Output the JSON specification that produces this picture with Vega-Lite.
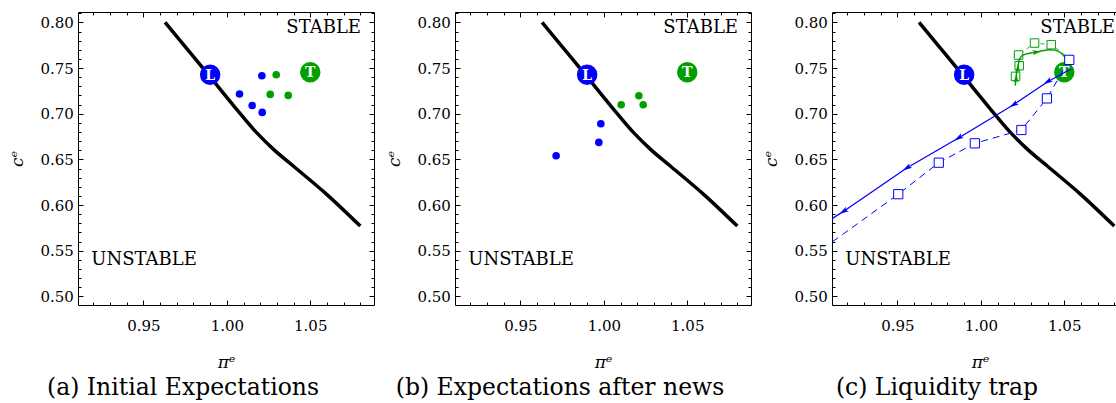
{
  "$schema": "https://vega.github.io/schema/vega-lite/v6.json",
  "padding": {"left": 8, "top": 6, "right": 0, "bottom": 0},
  "background": "white",
  "spacing": 81,
  "bounds": "flush",
  "datasets": {
    "boundary": [
      {"pe": 0.963, "ce": 0.800}, {"pe": 0.975, "ce": 0.7735}, {"pe": 0.990, "ce": 0.7403},
      {"pe": 1.005, "ce": 0.7068}, {"pe": 1.018, "ce": 0.679}, {"pe": 1.028, "ce": 0.661},
      {"pe": 1.040, "ce": 0.6425}, {"pe": 1.060, "ce": 0.6115}, {"pe": 1.080, "ce": 0.577}
    ],
    "anchors": [
      {"name": "L", "pe": 0.990, "ce": 0.7427},
      {"name": "T", "pe": 1.050, "ce": 0.7453}
    ],
    "regions": [
      {"label": "STABLE", "pe": 1.0804, "ce": 0.7939},
      {"label": "UNSTABLE", "pe": 0.9188, "ce": 0.5402}
    ],
    "initial": [
      {"group": "L", "pe": 1.021, "ce": 0.7416}, {"group": "L", "pe": 1.0076, "ce": 0.7216},
      {"group": "L", "pe": 1.0152, "ce": 0.7091}, {"group": "L", "pe": 1.0212, "ce": 0.7015},
      {"group": "T", "pe": 1.0296, "ce": 0.7427}, {"group": "T", "pe": 1.026, "ce": 0.7212},
      {"group": "T", "pe": 1.0368, "ce": 0.7201}
    ],
    "afternews": [
      {"group": "L", "pe": 0.9982, "ce": 0.6891}, {"group": "L", "pe": 0.997, "ce": 0.6686},
      {"group": "L", "pe": 0.9714, "ce": 0.654},
      {"group": "T", "pe": 1.0104, "ce": 0.7099}, {"group": "T", "pe": 1.021, "ce": 0.7197},
      {"group": "T", "pe": 1.0236, "ce": 0.7099}
    ],
    "blueActual": [
      {"pe": 1.054, "ce": 0.749, "arrow": ""}, {"pe": 1.040, "ce": 0.735, "arrow": "yes"},
      {"pe": 1.0196, "ce": 0.7099, "arrow": "yes"}, {"pe": 0.9866, "ce": 0.6734, "arrow": "yes"},
      {"pe": 0.9556, "ce": 0.6406, "arrow": "yes"}, {"pe": 0.9176, "ce": 0.593, "arrow": "yes"},
      {"pe": 0.895, "ce": 0.567, "arrow": ""}
    ],
    "blueExpected": [
      {"pe": 1.053, "ce": 0.759}, {"pe": 1.0396, "ce": 0.7168}, {"pe": 1.0243, "ce": 0.6822},
      {"pe": 0.9964, "ce": 0.6676}, {"pe": 0.9748, "ce": 0.6464}, {"pe": 0.9505, "ce": 0.6119},
      {"pe": 0.89, "ce": 0.532}
    ],
    "greenActual": [
      {"pe": 1.0206, "ce": 0.7307, "arrow": ""}, {"pe": 1.0212, "ce": 0.7391, "arrow": "up"},
      {"pe": 1.0214, "ce": 0.7446, "arrow": ""}, {"pe": 1.0222, "ce": 0.750, "arrow": "up"},
      {"pe": 1.0228, "ce": 0.7573, "arrow": ""}, {"pe": 1.0246, "ce": 0.7635, "arrow": ""},
      {"pe": 1.0336, "ce": 0.7676, "arrow": "right"}, {"pe": 1.0406, "ce": 0.770, "arrow": ""},
      {"pe": 1.0466, "ce": 0.7683, "arrow": ""}, {"pe": 1.0526, "ce": 0.757, "arrow": ""}
    ],
    "greenExpected": [
      {"pe": 1.0208, "ce": 0.7409}, {"pe": 1.023, "ce": 0.7526}, {"pe": 1.0226, "ce": 0.7643},
      {"pe": 1.0322, "ce": 0.7774}, {"pe": 1.0422, "ce": 0.7756}, {"pe": 1.0536, "ce": 0.760}
    ]
  },
  "hconcat": [
    {
      "width": 296, "height": 293,
      "title": {"text": "(a) Initial Expectations", "font": "DejaVu Serif", "fontSize": 23.5, "fontWeight": "normal", "color": "black", "orient": "bottom", "anchor": "middle", "frame": "group", "dx": -43, "offset": 6},
      "resolve": {"axis": {"x": "independent", "y": "independent"}},
      "layer": [
        {
          "data": {"name": "boundary"},
          "mark": {"type": "line", "color": "black", "strokeWidth": 3.5, "interpolate": "monotone", "clip": true},
          "encoding": {
            "x": {"field": "pe", "type": "quantitative", "scale": {"domain": [0.9108, 1.0882], "nice": false, "zero": false},
              "axis": {"orient": "bottom", "values": [0.92,0.93,0.94,0.95,0.96,0.97,0.98,0.99,1.0,1.01,1.02,1.03,1.04,1.05,1.06,1.07,1.08],
                "labelExpr": "abs(datum.value*20 - round(datum.value*20)) < 0.01 ? format(datum.value, '.2f') : ''",
                "tickSize": {"condition": {"test": "abs(datum.value*20 - round(datum.value*20)) < 0.01", "value": -5}, "value": -3},
                "labelFont": "DejaVu Serif", "labelFontSize": 15, "labelColor": "black",
                "titleFont": "DejaVu Serif", "titleFontSize": 17, "titleFontStyle": "italic", "titleFontWeight": "normal", "titleColor": "black",
                "labelPadding": 18, "title": "πᵉ", "titlePadding": 19}},
            "y": {"field": "ce", "type": "quantitative", "scale": {"domain": [0.4906, 0.8114], "nice": false, "zero": false},
              "axis": {"orient": "left", "values": [0.5,0.51,0.52,0.53,0.54,0.55,0.56,0.57,0.58,0.59,0.6,0.61,0.62,0.63,0.64,0.65,0.66,0.67,0.68,0.69,0.7,0.71,0.72,0.73,0.74,0.75,0.76,0.77,0.78,0.79,0.8,0.81],
                "labelExpr": "abs(datum.value*20 - round(datum.value*20)) < 0.01 ? format(datum.value, '.2f') : ''",
                "tickSize": {"condition": {"test": "abs(datum.value*20 - round(datum.value*20)) < 0.01", "value": -5}, "value": -3},
                "labelFont": "DejaVu Serif", "labelFontSize": 15, "labelColor": "black",
                "titleFont": "DejaVu Serif", "titleFontSize": 17, "titleFontStyle": "italic", "titleFontWeight": "normal", "titleColor": "black",
                "labelPadding": 9.6, "title": "cᵉ", "titlePadding": 14}}
          }
        },
        {
          "data": {"name": "regions"},
          "transform": [{"filter": "datum.label == 'STABLE'"}],
          "mark": {"type": "text", "font": "DejaVu Serif", "fontSize": 18, "color": "black", "baseline": "middle", "align": "right"},
          "encoding": {
            "x": {"field": "pe", "type": "quantitative", "scale": {"domain": [0.9108, 1.0882], "nice": false, "zero": false},
              "axis": {"orient": "top", "labels": false, "title": null, "values": [0.92,0.93,0.94,0.95,0.96,0.97,0.98,0.99,1.0,1.01,1.02,1.03,1.04,1.05,1.06,1.07,1.08],
                "tickSize": {"condition": {"test": "abs(datum.value*20 - round(datum.value*20)) < 0.01", "value": -5}, "value": -3}}},
            "y": {"field": "ce", "type": "quantitative", "scale": {"domain": [0.4906, 0.8114], "nice": false, "zero": false},
              "axis": {"orient": "right", "labels": false, "title": null, "values": [0.5,0.51,0.52,0.53,0.54,0.55,0.56,0.57,0.58,0.59,0.6,0.61,0.62,0.63,0.64,0.65,0.66,0.67,0.68,0.69,0.7,0.71,0.72,0.73,0.74,0.75,0.76,0.77,0.78,0.79,0.8,0.81],
                "tickSize": {"condition": {"test": "abs(datum.value*20 - round(datum.value*20)) < 0.01", "value": -5}, "value": -3}}},
            "text": {"field": "label"}
          }
        },
        {
          "data": {"name": "regions"},
          "transform": [{"filter": "datum.label == 'UNSTABLE'"}],
          "mark": {"type": "text", "font": "DejaVu Serif", "fontSize": 18, "color": "black", "baseline": "middle", "align": "left"},
          "encoding": {
            "x": {"field": "pe", "type": "quantitative", "scale": {"domain": [0.9108, 1.0882], "nice": false, "zero": false}, "axis": null},
            "y": {"field": "ce", "type": "quantitative", "scale": {"domain": [0.4906, 0.8114], "nice": false, "zero": false}, "axis": null},
            "text": {"field": "label"}
          }
        },
        {
          "data": {"name": "initial"},
          "mark": {"type": "circle", "size": 58, "opacity": 1},
          "encoding": {
            "x": {"field": "pe", "type": "quantitative", "scale": {"domain": [0.9108, 1.0882], "nice": false, "zero": false}, "axis": null},
            "y": {"field": "ce", "type": "quantitative", "scale": {"domain": [0.4906, 0.8114], "nice": false, "zero": false}, "axis": null},
            "color": {"field": "group", "type": "nominal", "scale": {"domain": ["L", "T"], "range": ["#0000ff", "#00a000"]}, "legend": null}
          }
        },
        {
          "data": {"name": "anchors"},
          "mark": {"type": "circle", "size": 420, "opacity": 1},
          "encoding": {
            "x": {"field": "pe", "type": "quantitative", "scale": {"domain": [0.9108, 1.0882], "nice": false, "zero": false}, "axis": null},
            "y": {"field": "ce", "type": "quantitative", "scale": {"domain": [0.4906, 0.8114], "nice": false, "zero": false}, "axis": null},
            "color": {"field": "name", "type": "nominal", "scale": {"domain": ["L", "T"], "range": ["#0000ff", "#00a000"]}, "legend": null}
          }
        },
        {
          "data": {"name": "anchors"},
          "mark": {"type": "text", "font": "DejaVu Serif", "fontSize": 14, "fontWeight": "bold", "color": "white", "baseline": "middle", "align": "center", "dy": 1},
          "encoding": {
            "x": {"field": "pe", "type": "quantitative", "scale": {"domain": [0.9108, 1.0882], "nice": false, "zero": false}, "axis": null},
            "y": {"field": "ce", "type": "quantitative", "scale": {"domain": [0.4906, 0.8114], "nice": false, "zero": false}, "axis": null},
            "text": {"field": "name"}
          }
        }
      ]
    },
    {
      "width": 296, "height": 293,
      "title": {"text": "(b) Expectations after news", "font": "DejaVu Serif", "fontSize": 23.5, "fontWeight": "normal", "color": "black", "orient": "bottom", "anchor": "middle", "frame": "group", "dx": -43, "offset": 6},
      "resolve": {"axis": {"x": "independent", "y": "independent"}},
      "layer": [
        {
          "data": {"name": "boundary"},
          "mark": {"type": "line", "color": "black", "strokeWidth": 3.5, "interpolate": "monotone", "clip": true},
          "encoding": {
            "x": {"field": "pe", "type": "quantitative", "scale": {"domain": [0.9108, 1.0882], "nice": false, "zero": false},
              "axis": {"orient": "bottom", "values": [0.92,0.93,0.94,0.95,0.96,0.97,0.98,0.99,1.0,1.01,1.02,1.03,1.04,1.05,1.06,1.07,1.08],
                "labelExpr": "abs(datum.value*20 - round(datum.value*20)) < 0.01 ? format(datum.value, '.2f') : ''",
                "tickSize": {"condition": {"test": "abs(datum.value*20 - round(datum.value*20)) < 0.01", "value": -5}, "value": -3},
                "labelFont": "DejaVu Serif", "labelFontSize": 15, "labelColor": "black",
                "titleFont": "DejaVu Serif", "titleFontSize": 17, "titleFontStyle": "italic", "titleFontWeight": "normal", "titleColor": "black",
                "labelPadding": 18, "title": "πᵉ", "titlePadding": 19}},
            "y": {"field": "ce", "type": "quantitative", "scale": {"domain": [0.4906, 0.8114], "nice": false, "zero": false},
              "axis": {"orient": "left", "values": [0.5,0.51,0.52,0.53,0.54,0.55,0.56,0.57,0.58,0.59,0.6,0.61,0.62,0.63,0.64,0.65,0.66,0.67,0.68,0.69,0.7,0.71,0.72,0.73,0.74,0.75,0.76,0.77,0.78,0.79,0.8,0.81],
                "labelExpr": "abs(datum.value*20 - round(datum.value*20)) < 0.01 ? format(datum.value, '.2f') : ''",
                "tickSize": {"condition": {"test": "abs(datum.value*20 - round(datum.value*20)) < 0.01", "value": -5}, "value": -3},
                "labelFont": "DejaVu Serif", "labelFontSize": 15, "labelColor": "black",
                "titleFont": "DejaVu Serif", "titleFontSize": 17, "titleFontStyle": "italic", "titleFontWeight": "normal", "titleColor": "black",
                "labelPadding": 9.6, "title": "cᵉ", "titlePadding": 14}}
          }
        },
        {
          "data": {"name": "regions"},
          "transform": [{"filter": "datum.label == 'STABLE'"}],
          "mark": {"type": "text", "font": "DejaVu Serif", "fontSize": 18, "color": "black", "baseline": "middle", "align": "right"},
          "encoding": {
            "x": {"field": "pe", "type": "quantitative", "scale": {"domain": [0.9108, 1.0882], "nice": false, "zero": false},
              "axis": {"orient": "top", "labels": false, "title": null, "values": [0.92,0.93,0.94,0.95,0.96,0.97,0.98,0.99,1.0,1.01,1.02,1.03,1.04,1.05,1.06,1.07,1.08],
                "tickSize": {"condition": {"test": "abs(datum.value*20 - round(datum.value*20)) < 0.01", "value": -5}, "value": -3}}},
            "y": {"field": "ce", "type": "quantitative", "scale": {"domain": [0.4906, 0.8114], "nice": false, "zero": false},
              "axis": {"orient": "right", "labels": false, "title": null, "values": [0.5,0.51,0.52,0.53,0.54,0.55,0.56,0.57,0.58,0.59,0.6,0.61,0.62,0.63,0.64,0.65,0.66,0.67,0.68,0.69,0.7,0.71,0.72,0.73,0.74,0.75,0.76,0.77,0.78,0.79,0.8,0.81],
                "tickSize": {"condition": {"test": "abs(datum.value*20 - round(datum.value*20)) < 0.01", "value": -5}, "value": -3}}},
            "text": {"field": "label"}
          }
        },
        {
          "data": {"name": "regions"},
          "transform": [{"filter": "datum.label == 'UNSTABLE'"}],
          "mark": {"type": "text", "font": "DejaVu Serif", "fontSize": 18, "color": "black", "baseline": "middle", "align": "left"},
          "encoding": {
            "x": {"field": "pe", "type": "quantitative", "scale": {"domain": [0.9108, 1.0882], "nice": false, "zero": false}, "axis": null},
            "y": {"field": "ce", "type": "quantitative", "scale": {"domain": [0.4906, 0.8114], "nice": false, "zero": false}, "axis": null},
            "text": {"field": "label"}
          }
        },
        {
          "data": {"name": "afternews"},
          "mark": {"type": "circle", "size": 58, "opacity": 1},
          "encoding": {
            "x": {"field": "pe", "type": "quantitative", "scale": {"domain": [0.9108, 1.0882], "nice": false, "zero": false}, "axis": null},
            "y": {"field": "ce", "type": "quantitative", "scale": {"domain": [0.4906, 0.8114], "nice": false, "zero": false}, "axis": null},
            "color": {"field": "group", "type": "nominal", "scale": {"domain": ["L", "T"], "range": ["#0000ff", "#00a000"]}, "legend": null}
          }
        },
        {
          "data": {"name": "anchors"},
          "mark": {"type": "circle", "size": 420, "opacity": 1},
          "encoding": {
            "x": {"field": "pe", "type": "quantitative", "scale": {"domain": [0.9108, 1.0882], "nice": false, "zero": false}, "axis": null},
            "y": {"field": "ce", "type": "quantitative", "scale": {"domain": [0.4906, 0.8114], "nice": false, "zero": false}, "axis": null},
            "color": {"field": "name", "type": "nominal", "scale": {"domain": ["L", "T"], "range": ["#0000ff", "#00a000"]}, "legend": null}
          }
        },
        {
          "data": {"name": "anchors"},
          "mark": {"type": "text", "font": "DejaVu Serif", "fontSize": 14, "fontWeight": "bold", "color": "white", "baseline": "middle", "align": "center", "dy": 1},
          "encoding": {
            "x": {"field": "pe", "type": "quantitative", "scale": {"domain": [0.9108, 1.0882], "nice": false, "zero": false}, "axis": null},
            "y": {"field": "ce", "type": "quantitative", "scale": {"domain": [0.4906, 0.8114], "nice": false, "zero": false}, "axis": null},
            "text": {"field": "name"}
          }
        }
      ]
    },
    {
      "width": 296, "height": 293,
      "title": {"text": "(c) Liquidity trap", "font": "DejaVu Serif", "fontSize": 23.5, "fontWeight": "normal", "color": "black", "orient": "bottom", "anchor": "middle", "frame": "group", "dx": -43, "offset": 6},
      "resolve": {"axis": {"x": "independent", "y": "independent"}},
      "layer": [
        {
          "data": {"name": "boundary"},
          "mark": {"type": "line", "color": "black", "strokeWidth": 3.5, "interpolate": "monotone", "clip": true},
          "encoding": {
            "x": {"field": "pe", "type": "quantitative", "scale": {"domain": [0.9108, 1.0882], "nice": false, "zero": false},
              "axis": {"orient": "bottom", "values": [0.92,0.93,0.94,0.95,0.96,0.97,0.98,0.99,1.0,1.01,1.02,1.03,1.04,1.05,1.06,1.07,1.08],
                "labelExpr": "abs(datum.value*20 - round(datum.value*20)) < 0.01 ? format(datum.value, '.2f') : ''",
                "tickSize": {"condition": {"test": "abs(datum.value*20 - round(datum.value*20)) < 0.01", "value": -5}, "value": -3},
                "labelFont": "DejaVu Serif", "labelFontSize": 15, "labelColor": "black",
                "titleFont": "DejaVu Serif", "titleFontSize": 17, "titleFontStyle": "italic", "titleFontWeight": "normal", "titleColor": "black",
                "labelPadding": 18, "title": "πᵉ", "titlePadding": 19}},
            "y": {"field": "ce", "type": "quantitative", "scale": {"domain": [0.4906, 0.8114], "nice": false, "zero": false},
              "axis": {"orient": "left", "values": [0.5,0.51,0.52,0.53,0.54,0.55,0.56,0.57,0.58,0.59,0.6,0.61,0.62,0.63,0.64,0.65,0.66,0.67,0.68,0.69,0.7,0.71,0.72,0.73,0.74,0.75,0.76,0.77,0.78,0.79,0.8,0.81],
                "labelExpr": "abs(datum.value*20 - round(datum.value*20)) < 0.01 ? format(datum.value, '.2f') : ''",
                "tickSize": {"condition": {"test": "abs(datum.value*20 - round(datum.value*20)) < 0.01", "value": -5}, "value": -3},
                "labelFont": "DejaVu Serif", "labelFontSize": 15, "labelColor": "black",
                "titleFont": "DejaVu Serif", "titleFontSize": 17, "titleFontStyle": "italic", "titleFontWeight": "normal", "titleColor": "black",
                "labelPadding": 9.6, "title": "cᵉ", "titlePadding": 14}}
          }
        },
        {
          "data": {"name": "regions"},
          "transform": [{"filter": "datum.label == 'STABLE'"}],
          "mark": {"type": "text", "font": "DejaVu Serif", "fontSize": 18, "color": "black", "baseline": "middle", "align": "right"},
          "encoding": {
            "x": {"field": "pe", "type": "quantitative", "scale": {"domain": [0.9108, 1.0882], "nice": false, "zero": false},
              "axis": {"orient": "top", "labels": false, "title": null, "values": [0.92,0.93,0.94,0.95,0.96,0.97,0.98,0.99,1.0,1.01,1.02,1.03,1.04,1.05,1.06,1.07,1.08],
                "tickSize": {"condition": {"test": "abs(datum.value*20 - round(datum.value*20)) < 0.01", "value": -5}, "value": -3}}},
            "y": {"field": "ce", "type": "quantitative", "scale": {"domain": [0.4906, 0.8114], "nice": false, "zero": false},
              "axis": {"orient": "right", "labels": false, "title": null, "values": [0.5,0.51,0.52,0.53,0.54,0.55,0.56,0.57,0.58,0.59,0.6,0.61,0.62,0.63,0.64,0.65,0.66,0.67,0.68,0.69,0.7,0.71,0.72,0.73,0.74,0.75,0.76,0.77,0.78,0.79,0.8,0.81],
                "tickSize": {"condition": {"test": "abs(datum.value*20 - round(datum.value*20)) < 0.01", "value": -5}, "value": -3}}},
            "text": {"field": "label"}
          }
        },
        {
          "data": {"name": "regions"},
          "transform": [{"filter": "datum.label == 'UNSTABLE'"}],
          "mark": {"type": "text", "font": "DejaVu Serif", "fontSize": 18, "color": "black", "baseline": "middle", "align": "left"},
          "encoding": {
            "x": {"field": "pe", "type": "quantitative", "scale": {"domain": [0.9108, 1.0882], "nice": false, "zero": false}, "axis": null},
            "y": {"field": "ce", "type": "quantitative", "scale": {"domain": [0.4906, 0.8114], "nice": false, "zero": false}, "axis": null},
            "text": {"field": "label"}
          }
        },
        {
          "data": {"name": "anchors"},
          "mark": {"type": "circle", "size": 420, "opacity": 1},
          "encoding": {
            "x": {"field": "pe", "type": "quantitative", "scale": {"domain": [0.9108, 1.0882], "nice": false, "zero": false}, "axis": null},
            "y": {"field": "ce", "type": "quantitative", "scale": {"domain": [0.4906, 0.8114], "nice": false, "zero": false}, "axis": null},
            "color": {"field": "name", "type": "nominal", "scale": {"domain": ["L", "T"], "range": ["#0000ff", "#00a000"]}, "legend": null}
          }
        },
        {
          "data": {"name": "anchors"},
          "mark": {"type": "text", "font": "DejaVu Serif", "fontSize": 14, "fontWeight": "bold", "color": "white", "baseline": "middle", "align": "center", "dy": 1},
          "encoding": {
            "x": {"field": "pe", "type": "quantitative", "scale": {"domain": [0.9108, 1.0882], "nice": false, "zero": false}, "axis": null},
            "y": {"field": "ce", "type": "quantitative", "scale": {"domain": [0.4906, 0.8114], "nice": false, "zero": false}, "axis": null},
            "text": {"field": "name"}
          }
        },
        {
          "data": {"name": "greenExpected"},
          "mark": {"type": "line", "color": "#00a000", "strokeWidth": 0.8, "strokeDash": [4, 4], "clip": true},
          "encoding": {
            "x": {"field": "pe", "type": "quantitative", "scale": {"domain": [0.9108, 1.0882], "nice": false, "zero": false}, "axis": null},
            "y": {"field": "ce", "type": "quantitative", "scale": {"domain": [0.4906, 0.8114], "nice": false, "zero": false}, "axis": null},
            "order": {"value": null}
          }
        },
        {
          "data": {"name": "greenExpected"},
          "transform": [{"filter": "datum.pe < 1.05"}],
          "mark": {"type": "point", "shape": "square", "filled": true, "fill": "white", "stroke": "#00a000", "strokeWidth": 1, "size": 72, "opacity": 1, "clip": true},
          "encoding": {
            "x": {"field": "pe", "type": "quantitative", "scale": {"domain": [0.9108, 1.0882], "nice": false, "zero": false}, "axis": null},
            "y": {"field": "ce", "type": "quantitative", "scale": {"domain": [0.4906, 0.8114], "nice": false, "zero": false}, "axis": null}
          }
        },
        {
          "data": {"name": "greenActual"},
          "mark": {"type": "line", "color": "#00a000", "strokeWidth": 1.5, "interpolate": "catmull-rom", "clip": true},
          "encoding": {
            "x": {"field": "pe", "type": "quantitative", "scale": {"domain": [0.9108, 1.0882], "nice": false, "zero": false}, "axis": null},
            "y": {"field": "ce", "type": "quantitative", "scale": {"domain": [0.4906, 0.8114], "nice": false, "zero": false}, "axis": null},
            "order": {"value": null}
          }
        },
        {
          "data": {"name": "greenActual"},
          "transform": [{"filter": "datum.arrow == 'up'"}],
          "mark": {"type": "point", "shape": "M1,0L-1,-0.55L-0.55,0L-1,0.55Z", "filled": true, "color": "#00a000", "size": 80, "angle": 272, "opacity": 1},
          "encoding": {
            "x": {"field": "pe", "type": "quantitative", "scale": {"domain": [0.9108, 1.0882], "nice": false, "zero": false}, "axis": null},
            "y": {"field": "ce", "type": "quantitative", "scale": {"domain": [0.4906, 0.8114], "nice": false, "zero": false}, "axis": null}
          }
        },
        {
          "data": {"name": "greenActual"},
          "transform": [{"filter": "datum.arrow == 'right'"}],
          "mark": {"type": "point", "shape": "M1,0L-1,-0.55L-0.55,0L-1,0.55Z", "filled": true, "color": "#00a000", "size": 80, "angle": 350, "opacity": 1},
          "encoding": {
            "x": {"field": "pe", "type": "quantitative", "scale": {"domain": [0.9108, 1.0882], "nice": false, "zero": false}, "axis": null},
            "y": {"field": "ce", "type": "quantitative", "scale": {"domain": [0.4906, 0.8114], "nice": false, "zero": false}, "axis": null}
          }
        },
        {
          "data": {"name": "blueExpected"},
          "mark": {"type": "line", "color": "#0000ff", "strokeWidth": 1, "strokeDash": [7, 5], "clip": true},
          "encoding": {
            "x": {"field": "pe", "type": "quantitative", "scale": {"domain": [0.9108, 1.0882], "nice": false, "zero": false}, "axis": null},
            "y": {"field": "ce", "type": "quantitative", "scale": {"domain": [0.4906, 0.8114], "nice": false, "zero": false}, "axis": null},
            "order": {"value": null}
          }
        },
        {
          "data": {"name": "blueExpected"},
          "mark": {"type": "point", "shape": "square", "filled": true, "fill": "white", "stroke": "#0000ff", "strokeWidth": 1, "size": 85, "opacity": 1, "clip": true},
          "encoding": {
            "x": {"field": "pe", "type": "quantitative", "scale": {"domain": [0.9108, 1.0882], "nice": false, "zero": false}, "axis": null},
            "y": {"field": "ce", "type": "quantitative", "scale": {"domain": [0.4906, 0.8114], "nice": false, "zero": false}, "axis": null}
          }
        },
        {
          "data": {"name": "blueActual"},
          "mark": {"type": "line", "color": "#0000ff", "strokeWidth": 1.3, "clip": true},
          "encoding": {
            "x": {"field": "pe", "type": "quantitative", "scale": {"domain": [0.9108, 1.0882], "nice": false, "zero": false}, "axis": null},
            "y": {"field": "ce", "type": "quantitative", "scale": {"domain": [0.4906, 0.8114], "nice": false, "zero": false}, "axis": null},
            "order": {"value": null}
          }
        },
        {
          "data": {"name": "blueActual"},
          "transform": [{"filter": "datum.arrow == 'yes'"}],
          "mark": {"type": "point", "shape": "M1,0L-1,-0.55L-0.55,0L-1,0.55Z", "filled": true, "color": "#0000ff", "size": 90, "angle": 148, "opacity": 1},
          "encoding": {
            "x": {"field": "pe", "type": "quantitative", "scale": {"domain": [0.9108, 1.0882], "nice": false, "zero": false}, "axis": null},
            "y": {"field": "ce", "type": "quantitative", "scale": {"domain": [0.4906, 0.8114], "nice": false, "zero": false}, "axis": null}
          }
        }
      ]
    }
  ],
  "config": {
    "view": {"stroke": null},
    "axis": {
      "grid": false, "domainColor": "black", "domainWidth": 1, "tickColor": "black", "tickWidth": 1,
      "labelColor": "black", "titleColor": "black", "labelFont": "DejaVu Serif", "labelFontSize": 15,
      "titleFont": "DejaVu Serif", "titleFontSize": 17, "titleFontStyle": "italic", "titleFontWeight": "normal",
      "labelOverlap": false, "labelFlush": false
    },
    "title": {
      "font": "DejaVu Serif", "fontSize": 23.5, "fontWeight": "normal", "color": "black"
    }
  }
}
